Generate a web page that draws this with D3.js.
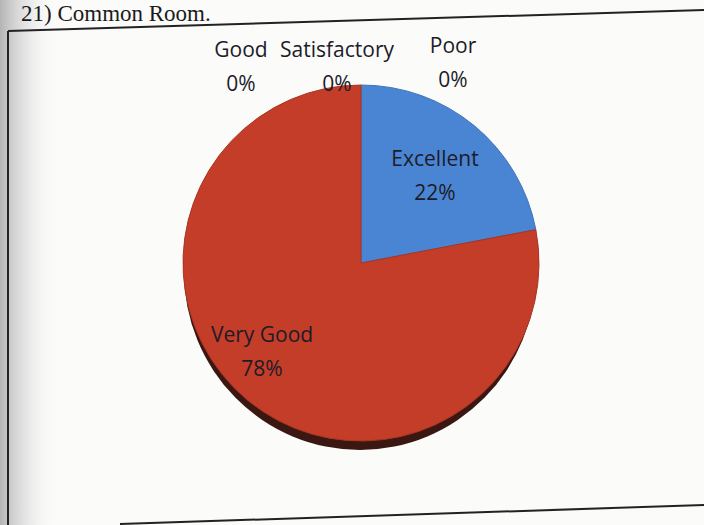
<!DOCTYPE html>
<html><head><meta charset="utf-8">
<script src="https://cdn.jsdelivr.net/npm/d3@7"></script>
<style>body{margin:0;background:#fff}svg{display:block}</style>
</head><body>
<svg id="c" width="704" height="525"></svg>
<script>
const title = "21) Common Room.";
const categories = ["Excellent","Very Good","Good","Satisfactory","Poor"];
const values = [22, 78, 0, 0, 0];
const colors = ["#4a85d3","#c43d28","#9bbb59","#8064a2","#4bacc6"];

const svg = d3.select("#c");
const defs = svg.append("defs");
const g1 = defs.append("linearGradient").attr("id","edge").attr("x1",0).attr("x2",1);
g1.append("stop").attr("offset",0).attr("stop-color","#b4b4b4");
g1.append("stop").attr("offset",1).attr("stop-color","#ffffff").attr("stop-opacity",0);
svg.append("rect").attr("width",704).attr("height",525).attr("fill","#fbfbfa");
svg.append("rect").attr("x",0).attr("width",60).attr("height",525).attr("fill","url(#edge)");

svg.append("text").attr("x",21).attr("y",21)
  .attr("font-family","Liberation Serif, Times New Roman, serif").attr("font-size",23)
  .attr("fill","#1a1a1a").text(title);

// frame
svg.append("line").attr("x1",8).attr("y1",31).attr("x2",704).attr("y2",10).attr("stroke","#222").attr("stroke-width",2);
svg.append("line").attr("x1",8).attr("y1",31).attr("x2",8).attr("y2",525).attr("stroke","#222").attr("stroke-width",2);
svg.append("line").attr("x1",120).attr("y1",524).attr("x2",704).attr("y2",505).attr("stroke","#222").attr("stroke-width",2);

const cx = 361, cy = 263, r = 178;
const data = categories.map((c,i)=>({cat:c, value:values[i], color:colors[i]}));
const pie = d3.pie().value(d=>d.value).sort(null);
const arcs = pie(data);
const arc = d3.arc().innerRadius(0).outerRadius(r);

const g = svg.append("g").attr("transform",`translate(${cx},${cy})`);
g.append("ellipse").attr("cx",-1).attr("cy",9).attr("rx",r-2).attr("ry",r).attr("fill","#3b1712");
g.selectAll("path.s").data(arcs.filter(a=>a.data.value>0)).join("path")
  .attr("d",arc).attr("fill",d=>d.data.color)
  .attr("stroke",d=>d3.color(d.data.color).darker(0.4)).attr("stroke-width",1);

// labels
const labelPos = {
  "Excellent":[74,-97],
  "Very Good":[-99,79],
  "Good":[-120,-206],
  "Satisfactory":[-24,-206],
  "Poor":[92,-210]
};
const font = "Open Sans, Lato, sans-serif";
data.forEach(d=>{
  const [x,y] = labelPos[d.cat];
  const t = g.append("text").attr("text-anchor","middle").attr("font-family",font)
    .attr("font-size",21).attr("fill","#1c1c28");
  t.append("tspan").attr("x",x).attr("y",y).text(d.cat);
  t.append("tspan").attr("x",x).attr("y",y+34).text(d.value+"%");
});
</script>
</body></html>
